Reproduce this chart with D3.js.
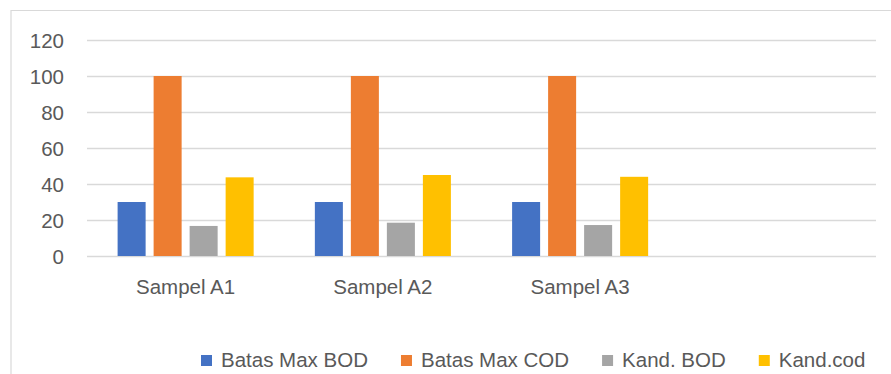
<!DOCTYPE html>
<html>
<head>
<meta charset="utf-8">
<script src="https://cdn.jsdelivr.net/npm/d3@7"></script>
<style>
  body { margin: 0; background: #fff; }
  text { font-family: "Liberation Sans", Arial, sans-serif; fill: #595959; }
</style>
</head>
<body>
<svg id="chart" width="891" height="374"></svg>
<script>
// data
const categories = ["Sampel A1", "Sampel A2", "Sampel A3", ""];
const seriesNames = ["Batas Max BOD", "Batas Max COD", "Kand. BOD", "Kand.cod"];
const batasMaxBOD = [30, 30, 30];
const batasMaxCOD = [100, 100, 100];
const kandBOD = [16.7, 18.5, 17.2];
const kandCOD = [43.7, 45, 44];
const yTicks = [0, 20, 40, 60, 80, 100, 120];
const colors = ["#4472C4", "#ED7D31", "#A5A5A5", "#FFC000"];

const allSeries = [batasMaxBOD, batasMaxCOD, kandBOD, kandCOD];

const svg = d3.select("#chart"),
    width = +svg.attr("width"),
    height = +svg.attr("height");

// chart frame (cut off on the right/bottom)
svg.append("path")
    .attr("d", `M11,${height} V10.5 H${width}`)
    .attr("fill", "none")
    .attr("stroke", "#d9d9d9")
    .attr("stroke-width", 1.2);

const x = d3.scaleBand()
    .domain(categories)
    .range([87, 876]);

const xInner = d3.scaleBand()
    .domain(seriesNames)
    .range([0, x.bandwidth()])
    .paddingInner(0.222)
    .paddingOuter(0.85);

const y = d3.scaleLinear()
    .domain([0, 120])
    .range([256, 40]);

const color = d3.scaleOrdinal()
    .domain(seriesNames)
    .range(colors);

// gridlines
svg.append("g")
    .selectAll("line")
    .data(yTicks)
    .join("line")
    .attr("x1", 87)
    .attr("x2", 876)
    .attr("y1", d => Math.round(y(d)) + 0.5)
    .attr("y2", d => Math.round(y(d)) + 0.5)
    .attr("stroke", "#d9d9d9")
    .attr("stroke-width", 1.3);

// y labels
svg.append("g")
    .selectAll("text")
    .data(yTicks)
    .join("text")
    .attr("x", 64)
    .attr("y", d => y(d) + 7.5)
    .attr("text-anchor", "end")
    .style("font-size", "20.5px")
    .text(d => d);

// bars
const barData = [];
allSeries.forEach((vals, i) => {
    vals.forEach((v, j) => {
        barData.push({ cat: categories[j], key: seriesNames[i], value: v });
    });
});

svg.append("g")
    .selectAll("rect")
    .data(barData)
    .join("rect")
    .attr("x", d => x(d.cat) + xInner(d.key))
    .attr("y", d => y(d.value))
    .attr("width", xInner.bandwidth())
    .attr("height", d => y(0) - y(d.value))
    .attr("fill", d => color(d.key));

// category labels
svg.append("g")
    .selectAll("text")
    .data(categories.filter(c => c !== ""))
    .join("text")
    .attr("x", d => x(d) + x.bandwidth() / 2)
    .attr("y", 294)
    .attr("text-anchor", "middle")
    .style("font-size", "20.5px")
    .text(d => d);

// legend
const legend = svg.append("g");
let lx = 201;
seriesNames.forEach(name => {
    legend.append("rect")
        .attr("x", lx)
        .attr("y", 355)
        .attr("width", 11)
        .attr("height", 11)
        .attr("fill", color(name));
    const t = legend.append("text")
        .attr("x", lx + 20)
        .attr("y", 367)
        .style("font-size", "20.5px")
        .text(name);
    lx += 20 + t.node().getComputedTextLength() + 33;
});
</script>
</body>
</html>
